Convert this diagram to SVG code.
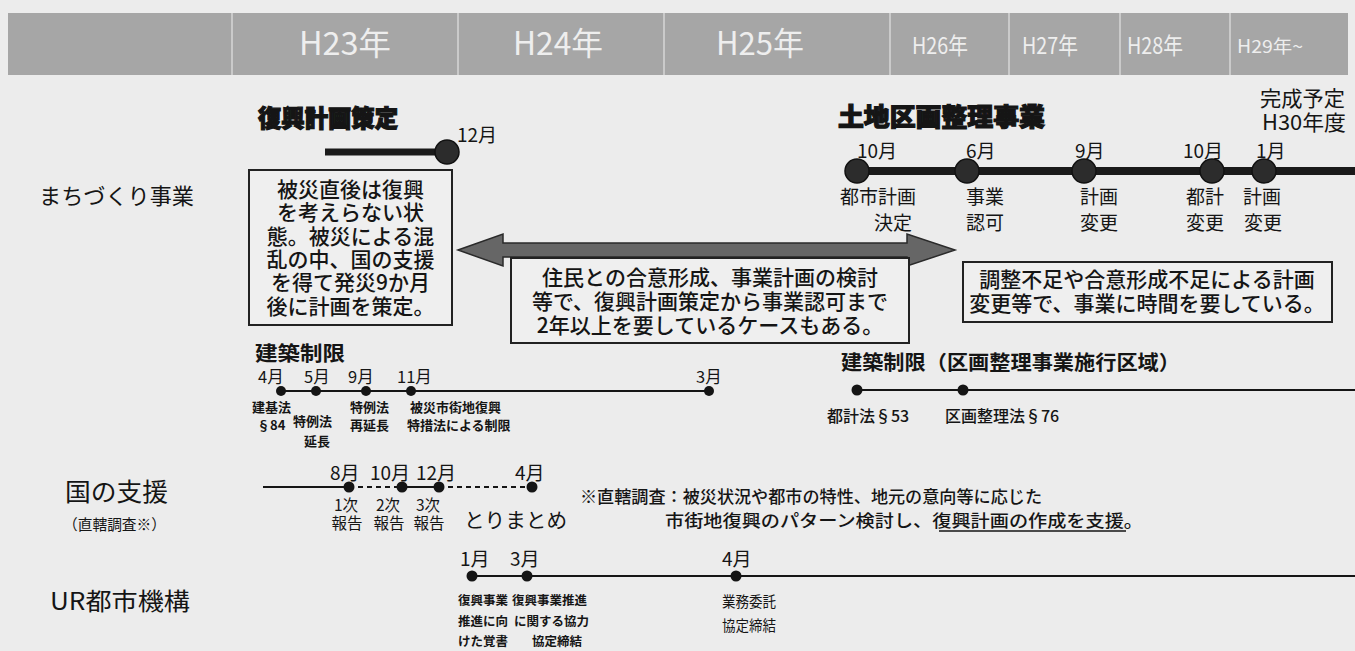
<svg xmlns="http://www.w3.org/2000/svg" width="1355" height="651" viewBox="0 0 1355 651">
<defs>
<style>
text{font-family:"Noto Sans CJK JP","Noto Sans",sans-serif;fill:#151515}
.yr{fill:#eeeeee;font-weight:400;text-anchor:middle}
.hv{font-weight:900;stroke:#151515;stroke-width:1.2}
.bx{font-size:21px;font-weight:500;text-anchor:middle}
.mo{font-size:19px}
.lb{font-size:19px;text-anchor:middle}
.sm{font-size:13px;font-weight:700}
.ur{font-size:12.5px;font-weight:700}
.rep{font-size:15.5px;text-anchor:middle}
.box{fill:#efefef;stroke:#222;stroke-width:2}
.thin{stroke:#151515;stroke-width:2;fill:none}
.dot{fill:#151515}
.big{fill:#2c2c2c;stroke:#111;stroke-width:1.5}
</style>
</defs>
<rect width="1355" height="651" fill="#ececec"/>

<g id="header">
<rect x="8" y="13" width="1340" height="62" fill="#a6a6a6"/>
<g stroke="#d6d6d6" stroke-width="1.5">
<line x1="232" y1="13" x2="232" y2="75"/>
<line x1="458" y1="13" x2="458" y2="75"/>
<line x1="664" y1="13" x2="664" y2="75"/>
<line x1="890" y1="13" x2="890" y2="75"/>
<line x1="1009" y1="13" x2="1009" y2="75"/>
<line x1="1120" y1="13" x2="1120" y2="75"/>
<line x1="1230" y1="13" x2="1230" y2="75"/>
</g>
<text class="yr" x="345" y="55" font-size="32" textLength="92" lengthAdjust="spacingAndGlyphs">H23年</text>
<text class="yr" x="558" y="55" font-size="32" textLength="90" lengthAdjust="spacingAndGlyphs">H24年</text>
<text class="yr" x="760" y="55" font-size="32" textLength="88" lengthAdjust="spacingAndGlyphs">H25年</text>
<text class="yr" x="940" y="54" font-size="23" textLength="56" lengthAdjust="spacingAndGlyphs">H26年</text>
<text class="yr" x="1050" y="54" font-size="23" textLength="56" lengthAdjust="spacingAndGlyphs">H27年</text>
<text class="yr" x="1155" y="54" font-size="23" textLength="56" lengthAdjust="spacingAndGlyphs">H28年</text>
<text class="yr" x="1270" y="53" font-size="18" textLength="66" lengthAdjust="spacingAndGlyphs">H29年~</text>
</g>

<g id="row-labels">
<text x="39" y="204" font-size="22" textLength="155" lengthAdjust="spacingAndGlyphs">まちづくり事業</text>
<text x="65" y="501" font-size="25" textLength="103" lengthAdjust="spacingAndGlyphs">国の支援</text>
<text x="63" y="530" font-size="15" textLength="103" lengthAdjust="spacingAndGlyphs">（直轄調査※）</text>
<text x="50" y="610" font-size="24" textLength="140" lengthAdjust="spacingAndGlyphs">UR都市機構</text>
</g>

<g id="connectors">
<line x1="325" y1="152" x2="447" y2="152" stroke="#1a1a1a" stroke-width="7"/>
<line x1="857" y1="171" x2="1355" y2="171" stroke="#1a1a1a" stroke-width="8"/>
<polygon points="458,250 503,234 503,243 907,243 907,234 955,250 907,266 907,257 503,257 503,266" fill="#666" stroke="#2a2a2a" stroke-width="1.5"/>
<line class="thin" x1="279" y1="391" x2="710" y2="391"/>
<line class="thin" x1="857" y1="390" x2="1355" y2="390"/>
<line class="thin" x1="263" y1="487" x2="349" y2="487"/>
<line class="thin" x1="349" y1="487" x2="402" y2="487" stroke-dasharray="5,4"/>
<line class="thin" x1="402" y1="487" x2="439" y2="487"/>
<line class="thin" x1="439" y1="487" x2="532" y2="487" stroke-dasharray="5,4"/>
<line class="thin" x1="470" y1="576" x2="1355" y2="576"/>
</g>

<g id="fukko-keikaku">
<text class="hv" x="258" y="127" font-size="24" textLength="140" lengthAdjust="spacingAndGlyphs">復興計画策定</text>
<text class="mo" x="457" y="142">12月</text>
<circle class="big" cx="447" cy="152" r="12"/>
</g>

<g id="box1">
<rect class="box" x="249" y="170" width="203" height="155"/>
<text class="bx" x="350.5" y="197">被災直後は復興</text>
<text class="bx" x="350.5" y="220">を考えらない状</text>
<text class="bx" x="350.5" y="244">態。被災による混</text>
<text class="bx" x="350.5" y="267">乱の中、国の支援</text>
<text class="bx" x="350.5" y="290">を得て発災9か月</text>
<text class="bx" x="350.5" y="314">後に計画を策定。</text>
</g>

<g id="box2">
<rect class="box" x="511" y="258" width="398" height="85"/>
<text class="bx" x="710" y="285">住民との合意形成、事業計画の検討</text>
<text class="bx" x="710" y="309">等で、復興計画策定から事業認可まで</text>
<text class="bx" x="710" y="333">2年以上を要しているケースもある。</text>
</g>

<g id="kukaku-seiri">
<text class="hv" x="838" y="126" font-size="25" textLength="207" lengthAdjust="spacingAndGlyphs">土地区画整理事業</text>
<text x="1260" y="106" font-size="21" textLength="85" lengthAdjust="spacingAndGlyphs">完成予定</text>
<text x="1262" y="130" font-size="21" textLength="84" lengthAdjust="spacingAndGlyphs">H30年度</text>
<text class="mo" x="857" y="158">10月</text>
<text class="mo" x="966" y="158">6月</text>
<text class="mo" x="1075" y="158">9月</text>
<text class="mo" x="1183" y="158">10月</text>
<text class="mo" x="1256" y="158">1月</text>
<circle class="big" cx="857" cy="171" r="12"/>
<circle class="big" cx="967" cy="171" r="12"/>
<circle class="big" cx="1084" cy="171" r="12"/>
<circle class="big" cx="1212" cy="171" r="12"/>
<circle class="big" cx="1264" cy="171" r="12"/>
<text class="lb" x="878" y="204">都市計画</text>
<text class="lb" x="893" y="230">決定</text>
<text class="lb" x="985" y="204">事業</text>
<text class="lb" x="985" y="230">認可</text>
<text class="lb" x="1099" y="204">計画</text>
<text class="lb" x="1099" y="230">変更</text>
<text class="lb" x="1205" y="204">都計</text>
<text class="lb" x="1205" y="230">変更</text>
<text class="lb" x="1262" y="204">計画</text>
<text class="lb" x="1263" y="230">変更</text>
</g>

<g id="box3">
<rect class="box" x="963" y="262" width="369" height="60"/>
<text class="bx" x="1147" y="287">調整不足や合意形成不足による計画</text>
<text class="bx" x="1147" y="311">変更等で、事業に時間を要している。</text>
</g>

<g id="kenchiku-seigen">
<text x="255" y="361" font-size="20" font-weight="700" textLength="90" lengthAdjust="spacingAndGlyphs">建築制限</text>
<text x="258" y="383" font-size="16.5">4月</text>
<text x="304" y="383" font-size="16.5">5月</text>
<text x="348" y="383" font-size="16.5">9月</text>
<text x="397" y="383" font-size="16.5">11月</text>
<text x="696" y="383" font-size="16.5">3月</text>
<circle class="dot" cx="281" cy="391" r="5"/>
<circle class="dot" cx="316" cy="391" r="5"/>
<circle class="dot" cx="366" cy="391" r="5"/>
<circle class="dot" cx="411" cy="391" r="5"/>
<circle class="dot" cx="709" cy="391" r="5"/>
<text class="sm" x="252" y="412">建基法</text>
<text class="sm" x="257" y="430">§84</text>
<text class="sm" x="293" y="426">特例法</text>
<text class="sm" x="304" y="446">延長</text>
<text class="sm" x="350" y="412">特例法</text>
<text class="sm" x="350" y="430">再延長</text>
<text class="sm" x="410" y="412">被災市街地復興</text>
<text class="sm" x="407" y="430">特措法による制限</text>
</g>

<g id="kenchiku-seigen-kukaku">
<text x="841" y="370" font-size="20" font-weight="700" textLength="339" lengthAdjust="spacingAndGlyphs">建築制限（区画整理事業施行区域）</text>
<circle class="dot" cx="857" cy="390" r="5.5"/>
<circle class="dot" cx="963" cy="390" r="5.5"/>
<text x="827" y="422" font-size="16" font-weight="500">都計法§53</text>
<text x="945" y="422" font-size="16" font-weight="500">区画整理法§76</text>
</g>

<g id="kuni-shien">
<text class="mo" x="330" y="480">8月</text>
<text class="mo" x="370" y="480">10月</text>
<text class="mo" x="416" y="480">12月</text>
<text class="mo" x="515" y="480">4月</text>
<circle class="dot" cx="349" cy="487" r="5.5"/>
<circle class="dot" cx="402" cy="487" r="5.5"/>
<circle class="dot" cx="439" cy="487" r="5.5"/>
<circle class="dot" cx="532" cy="487" r="5.5"/>
<text class="rep" x="346" y="511">1次</text>
<text class="rep" x="347" y="529">報告</text>
<text class="rep" x="388" y="511">2次</text>
<text class="rep" x="389" y="529">報告</text>
<text class="rep" x="428" y="511">3次</text>
<text class="rep" x="429" y="529">報告</text>
<text x="464" y="528" font-size="20" textLength="103" lengthAdjust="spacingAndGlyphs">とりまとめ</text>
</g>

<g id="footnote">
<text x="580" y="503" font-size="17" font-weight="500" textLength="462" lengthAdjust="spacingAndGlyphs">※直轄調査：被災状況や都市の特性、地元の意向等に応じた</text>
<text x="665" y="527" font-size="17" font-weight="500" textLength="478" lengthAdjust="spacingAndGlyphs">市街地復興のパターン検討し、復興計画の作成を支援。</text>
<line x1="939" y1="531" x2="1126" y2="531" stroke="#151515" stroke-width="1.5"/>
</g>

<g id="ur">
<text class="mo" x="460" y="566">1月</text>
<text class="mo" x="510" y="566">3月</text>
<text class="mo" x="722" y="566">4月</text>
<circle class="dot" cx="472" cy="576" r="5.5"/>
<circle class="dot" cx="527" cy="576" r="5.5"/>
<circle class="dot" cx="736" cy="576" r="5.5"/>
<text class="ur" x="458" y="605">復興事業</text>
<text class="ur" x="458" y="626">推進に向</text>
<text class="ur" x="458" y="646">けた覚書</text>
<text class="ur" x="512" y="605">復興事業推進</text>
<text class="ur" x="514" y="626">に関する協力</text>
<text class="ur" x="532" y="646">協定締結</text>
<text x="722" y="607" font-size="15" textLength="54" lengthAdjust="spacingAndGlyphs">業務委託</text>
<text x="722" y="631" font-size="15" textLength="54" lengthAdjust="spacingAndGlyphs">協定締結</text>
</g>
</svg>
